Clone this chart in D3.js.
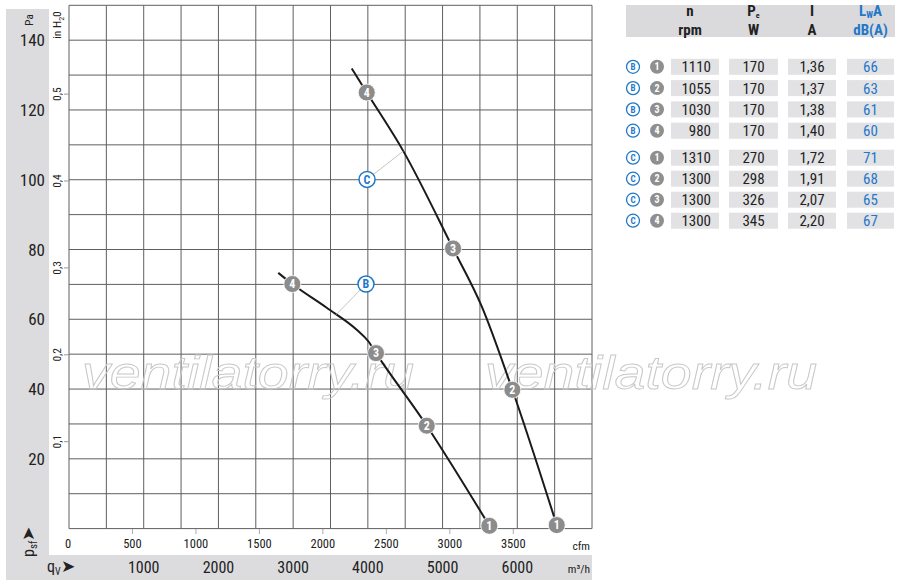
<!DOCTYPE html>
<html><head><meta charset="utf-8">
<script src="https://cdn.jsdelivr.net/npm/d3@7"></script>
<style>
html,body{margin:0;padding:0;background:#fff;}
svg{display:block;}
</style></head>
<body>
<svg id="c" width="900" height="587"></svg>
<script>
// ---------- data ----------
const paTicks = [20, 40, 60, 80, 100, 120, 140];
const inH2OTicks = [0.1, 0.2, 0.3, 0.4, 0.5];
const cfmTicks = [0, 500, 1000, 1500, 2000, 2500, 3000, 3500];
const m3hTicks = [1000, 2000, 3000, 4000, 5000, 6000];

// curve B (m³/h, Pa)
const curveB = [[2801, 73.3], [2989, 70.1], [3449, 63.3], [3851, 57.0], [4006, 53.7], [4109, 50.3], [4788, 29.5], [5626, 0.8]];
const markersB = [[1, 5626, 0.8], [2, 4788, 29.5], [3, 4109, 50.3], [4, 2989, 70.1]];
// curve C
const curveC = [[3784, 131.9], [3985, 125.0], [4475, 108.2], [5140, 80.3], [5524, 63.7], [5934, 39.8], [6528, 1.0]];
const markersC = [[1, 6528, 1.0], [2, 5934, 39.8], [3, 5140, 80.3], [4, 3985, 125.0]];
// callouts: label, circle position, curve attach point
const callouts = [["B", 3975, 70.1, 3574, 61.3], ["C", 3989, 100.1, 4475, 108.2]];

// table
const tblSeries = ["B", "B", "B", "B", "C", "C", "C", "C"];
const tblPoint = [1, 2, 3, 4, 1, 2, 3, 4];
const tblRpm = ["1110", "1055", "1030", "980", "1310", "1300", "1300", "1300"];
const tblPe = ["170", "170", "170", "170", "270", "298", "326", "345"];
const tblI = ["1,36", "1,37", "1,38", "1,40", "1,72", "1,91", "2,07", "2,20"];
const tblLwA = ["66", "63", "61", "60", "71", "68", "65", "67"];

// ---------- setup ----------
const FONT = "'Liberation Sans Narrow','Arial Narrow','Roboto Condensed','Liberation Sans',Arial,sans-serif";
const BLUE = "#1f78c8";
const GRID = "#5f5f5f";
const svg = d3.select("#c").style("font-family", FONT);

const x = d3.scaleLinear().domain([0, 7000]).range([69, 592]);
const y = d3.scaleLinear().domain([0, 150]).range([528.6, 5.3]);
const CFM2M3H = 1.69901, INH2O2PA = 249.089;

// gray panels
svg.append("rect").attr("x", 6).attr("y", 9).attr("width", 43).attr("height", 571).attr("fill", "#dcdcde");
svg.append("rect").attr("x", 6).attr("y", 555).attr("width", 586).attr("height", 25).attr("fill", "#dcdcde");

// grid
const g = svg.append("g");
g.selectAll("line.v").data(d3.range(0, 7001, 500)).join("line")
  .attr("x1", d => x(d)).attr("x2", d => x(d)).attr("y1", y(0)).attr("y2", y(150))
  .attr("stroke", GRID).attr("stroke-width", 1);
g.selectAll("line.h").data(d3.range(0, 151, 10)).join("line")
  .attr("x1", x(0)).attr("x2", x(7000)).attr("y1", d => y(d)).attr("y2", d => y(d))
  .attr("stroke", GRID).attr("stroke-width", 1);

// watermark
[82, 485].forEach(wx => {
  svg.append("text").attr("x", wx).attr("y", 389).text("ventilatorry.ru")
    .attr("font-family", "'Liberation Sans',Arial,sans-serif").attr("font-style", "italic")
    .attr("font-size", 47).attr("fill", "none").attr("stroke", "#c8c8c8").attr("stroke-width", 0.9)
    .attr("textLength", 332).attr("lengthAdjust", "spacingAndGlyphs");
});

// Pa labels
svg.selectAll("text.pa").data(paTicks).join("text")
  .attr("x", 45).attr("y", d => y(d)).attr("dy", "0.36em").attr("text-anchor", "end")
  .attr("font-size", 17).attr("fill", "#222").text(d => d);
svg.append("text").attr("transform", "translate(33,20) rotate(-90)").attr("text-anchor", "middle")
  .attr("font-size", 11).attr("fill", "#222").text("Pa");

// inH2O axis
inH2OTicks.forEach(v => {
  const yy = y(v * INH2O2PA);
  svg.append("line").attr("x1", 64).attr("x2", 69).attr("y1", yy).attr("y2", yy).attr("stroke", "#999");
  svg.append("text").attr("transform", `translate(61,${yy}) rotate(-90)`).attr("text-anchor", "middle")
    .attr("font-size", 11.5).attr("fill", "#222").text(String(v).replace(".", ","));
});
const ih = svg.append("text").attr("transform", "translate(61,25) rotate(-90)").attr("text-anchor", "middle")
  .attr("font-size", 11.5).attr("fill", "#222");
ih.append("tspan").text("in H");
ih.append("tspan").attr("font-size", 8).attr("dy", 3).text("2");
ih.append("tspan").attr("dy", -3).text("0");

// cfm axis
cfmTicks.forEach(v => {
  const xx = x(v * CFM2M3H);
  if (v > 0) svg.append("line").attr("x1", xx).attr("x2", xx).attr("y1", 529).attr("y2", 534).attr("stroke", "#aaa");
  svg.append("text").attr("x", v === 0 ? xx - 1 : xx).attr("y", 548).attr("text-anchor", "middle")
    .attr("font-size", 12.5).attr("fill", "#222").text(v);
});
svg.append("text").attr("x", 590).attr("y", 550).attr("text-anchor", "end").attr("font-size", 11.5).attr("fill", "#222").text("cfm");

// m3/h axis
svg.selectAll("text.m3").data(m3hTicks).join("text")
  .attr("x", d => x(d)).attr("y", 573).attr("text-anchor", "middle")
  .attr("font-size", 16).attr("fill", "#222").text(d => d);
svg.append("text").attr("x", 590).attr("y", 573).attr("text-anchor", "end").attr("font-size", 11.5).attr("fill", "#222").text("m³/h");

// psf and qv labels
const ps = svg.append("text").attr("transform", "translate(34,557) rotate(-90)").attr("font-size", 16).attr("fill", "#222");
ps.append("tspan").text("p");
ps.append("tspan").attr("font-size", 11).attr("dy", 3).text("sf");
ps.append("tspan").attr("dy", -3).attr("font-size", 17).text("➤");
const qv = svg.append("text").attr("x", 47).attr("y", 572).attr("font-size", 16).attr("fill", "#222");
qv.append("tspan").text("q");
qv.append("tspan").attr("font-size", 10).attr("dy", 3).text("V");
qv.append("tspan").attr("dy", -3).attr("font-size", 17).text("➤");

// curves
const line = d3.line().x(d => x(d[0])).y(d => y(d[1])).curve(d3.curveMonotoneX);
[curveB, curveC].forEach(c => {
  svg.append("path").attr("d", line(c)).attr("fill", "none").attr("stroke", "#1a1a1a").attr("stroke-width", 2);
});

// callouts
callouts.forEach(([lab, cx, cy, tx, ty]) => {
  svg.append("line").attr("x1", x(cx)).attr("y1", y(cy)).attr("x2", x(tx)).attr("y2", y(ty))
    .attr("stroke", "#b5b5b5").attr("stroke-width", 0.8);
  svg.append("circle").attr("cx", x(cx)).attr("cy", y(cy)).attr("r", 8)
    .attr("fill", "#fff").attr("stroke", BLUE).attr("stroke-width", 1.5);
  svg.append("text").attr("x", x(cx)).attr("y", y(cy)).attr("dy", "0.36em").attr("text-anchor", "middle")
    .attr("font-size", 12).attr("font-weight", "bold").attr("fill", BLUE).text(lab);
});

// markers
function marker(px, py, n, r, fs) {
  svg.append("circle").attr("cx", px).attr("cy", py).attr("r", r).attr("fill", "#8c8c8c")
    .attr("stroke", "#fff").attr("stroke-width", 0.8);
  svg.append("text").attr("x", px).attr("y", py).attr("dy", "0.36em").attr("text-anchor", "middle")
    .attr("font-size", fs).attr("font-weight", "bold").attr("fill", "#fff").text(n);
}
[markersB, markersC].forEach(ms => ms.forEach(([n, mx, mp]) => marker(x(mx), y(mp), n, 8.5, 12)));

// ---------- table ----------
svg.append("rect").attr("x", 626).attr("y", 5).attr("width", 269).attr("height", 32).attr("fill", "#dadadc");
const colX = [[671, 719], [729, 778], [788, 836], [847, 894]];
const colC = colX.map(c => (c[0] + c[1]) / 2);
function hdr(xx, yy, txt, col) {
  return svg.append("text").attr("x", xx).attr("y", yy).attr("text-anchor", "middle")
    .attr("font-size", 15).attr("font-weight", "bold").attr("fill", col || "#222").text(txt);
}
hdr(colC[0] - 5, 16, "n"); hdr(colC[0] - 5, 35, "rpm");
const pe = hdr(colC[1], 16, ""); pe.append("tspan").text("P"); pe.append("tspan").attr("font-size", 8).attr("dy", 1.5).text("e");
hdr(colC[1], 35, "W");
hdr(colC[2], 16, "I"); hdr(colC[2], 35, "A");
const lw = hdr(colC[3], 16, "", BLUE); lw.append("tspan").text("L"); lw.append("tspan").attr("font-size", 9).attr("dy", 1.5).text("W");
lw.append("tspan").attr("dy", -1.5).text("A");
hdr(colC[3], 35, "dB(A)", BLUE);

const rowY = tblSeries.map((s, i) => i < 4 ? 66.8 + i * 21.3 : 157.7 + (i - 4) * 21);
const cols = [tblRpm, tblPe, tblI, tblLwA];
tblSeries.forEach((s, i) => {
  const ry = rowY[i];
  // series icon
  svg.append("circle").attr("cx", 633).attr("cy", ry).attr("r", 6.5).attr("fill", "#fff").attr("stroke", BLUE).attr("stroke-width", 1.3);
  svg.append("text").attr("x", 633).attr("y", ry).attr("dy", "0.36em").attr("text-anchor", "middle")
    .attr("font-size", 9).attr("font-weight", "bold").attr("fill", BLUE).text(s);
  svg.append("circle").attr("cx", 657).attr("cy", ry).attr("r", 7).attr("fill", "#8f8f8f");
  svg.append("text").attr("x", 657).attr("y", ry).attr("dy", "0.36em").attr("text-anchor", "middle")
    .attr("font-size", 10).attr("font-weight", "bold").attr("fill", "#fff").text(tblPoint[i]);
  cols.forEach((col, j) => {
    svg.append("rect").attr("x", colX[j][0]).attr("y", ry - 8).attr("width", colX[j][1] - colX[j][0]).attr("height", 16).attr("fill", "#e2e2e4");
    svg.append("text").attr("x", j === 0 ? 711 : colC[j]).attr("y", ry).attr("dy", "0.36em")
      .attr("text-anchor", j === 0 ? "end" : "middle").attr("font-size", 15)
      .attr("fill", j === 3 ? BLUE : "#222").text(col[i]);
  });
});
</script>
</body></html>
